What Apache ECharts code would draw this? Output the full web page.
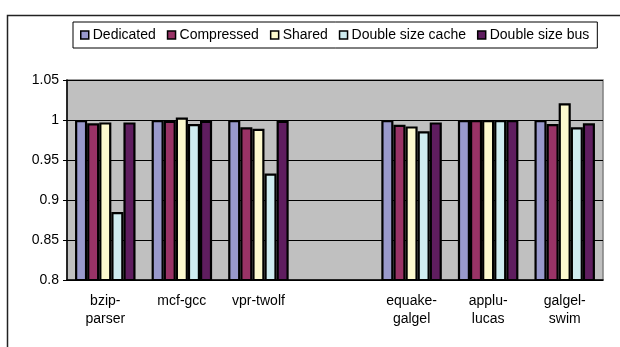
<!DOCTYPE html>
<html>
<head>
<meta charset="utf-8">
<script src="https://cdn.jsdelivr.net/npm/echarts@6/dist/echarts.min.js"></script>
<style>html,body{margin:0;padding:0;background:#fff;}#c{width:620px;height:347px;}</style>
</head>
<body>
<div id="c"></div>
<script>
var categories = ['bzip-\nparser', 'mcf-gcc', 'vpr-twolf', '', 'equake-\ngalgel', 'applu-\nlucas', 'galgel-\nswim'];
var seriesNames = ['Dedicated', 'Compressed', 'Shared', 'Double size cache', 'Double size bus'];
var dedicated = [1.0, 1.0, 1.0, null, 1.0, 1.0, 1.0];
var compressed = [0.996, 0.999, 0.991, null, 0.994, 1.0, 0.995];
var shared = [0.997, 1.003, 0.989, null, 0.992, 1.0, 1.021];
var doubleCache = [0.885, 0.995, 0.933, null, 0.986, 1.0, 0.991];
var doubleBus = [0.997, 0.999, 0.999, null, 0.997, 1.0, 0.996];
var colors = ['#9999CC', '#993366', '#FCF9CE', '#CFECF0', '#5F1D5F'];
var yTicks = [0.8, 0.85, 0.9, 0.95, 1, 1.05];

var font = '"Liberation Sans", Arial, sans-serif';
var values = [dedicated, compressed, shared, doubleCache, doubleBus];
var series = seriesNames.map(function (n, i) {
  return {
    name: n, type: 'bar', data: values[i],
    barGap: '0%', barCategoryGap: '21%',
    itemStyle: { color: colors[i], borderColor: '#000', borderWidth: 2.2 },
    emphasis: { disabled: true }
  };
});
var chart = echarts.init(document.getElementById('c'), null, { renderer: 'canvas' });
chart.setOption({
  animation: false,
  backgroundColor: '#fff',
  graphic: [{
    type: 'rect', z: -1,
    shape: { x: 7.5, y: 15.5, width: 700, height: 400 },
    style: { fill: 'none', stroke: '#222', lineWidth: 1.5 }
  }],
  legend: {
    left: 73, top: 22,
    data: seriesNames,
    icon: 'rect', itemWidth: 8, itemHeight: 8, itemGap: 11,
    padding: [6, 8, 6, 7],
    borderColor: '#000', borderWidth: 1,
    backgroundColor: '#fff',
    itemStyle: { borderColor: '#000', borderWidth: 1.5 },
    textStyle: { fontFamily: font, fontSize: 14, color: '#000', padding: [0, 0, 0, -1] }
  },
  grid: {
    left: 67, right: 17, top: 80, bottom: 67,
    show: true, backgroundColor: '#C0C0C0', borderColor: '#808080', borderWidth: 1.5
  },
  xAxis: {
    type: 'category', data: categories,
    axisLine: { lineStyle: { color: '#000', width: 1.5 } },
    axisTick: { inside: true, length: 5, lineStyle: { color: '#000' } },
    axisLabel: { fontFamily: font, fontSize: 14, color: '#000', margin: 12, lineHeight: 18, interval: 0 }
  },
  yAxis: {
    type: 'value', min: 0.8, max: 1.05, interval: 0.05,
    axisLine: { show: true, lineStyle: { color: '#000', width: 1.5 } },
    axisTick: { show: true, length: 4, lineStyle: { color: '#000' } },
    splitLine: { lineStyle: { color: '#000', width: 1 } },
    axisLabel: {
      fontFamily: font, fontSize: 14, color: '#000', margin: 8,
      formatter: function (v) {
        var s = yTicks.find(function (t) { return Math.abs(t - v) < 1e-9; });
        return s === undefined ? '' : String(s);
      }
    }
  },
  series: series
});
</script>
</body>
</html>
